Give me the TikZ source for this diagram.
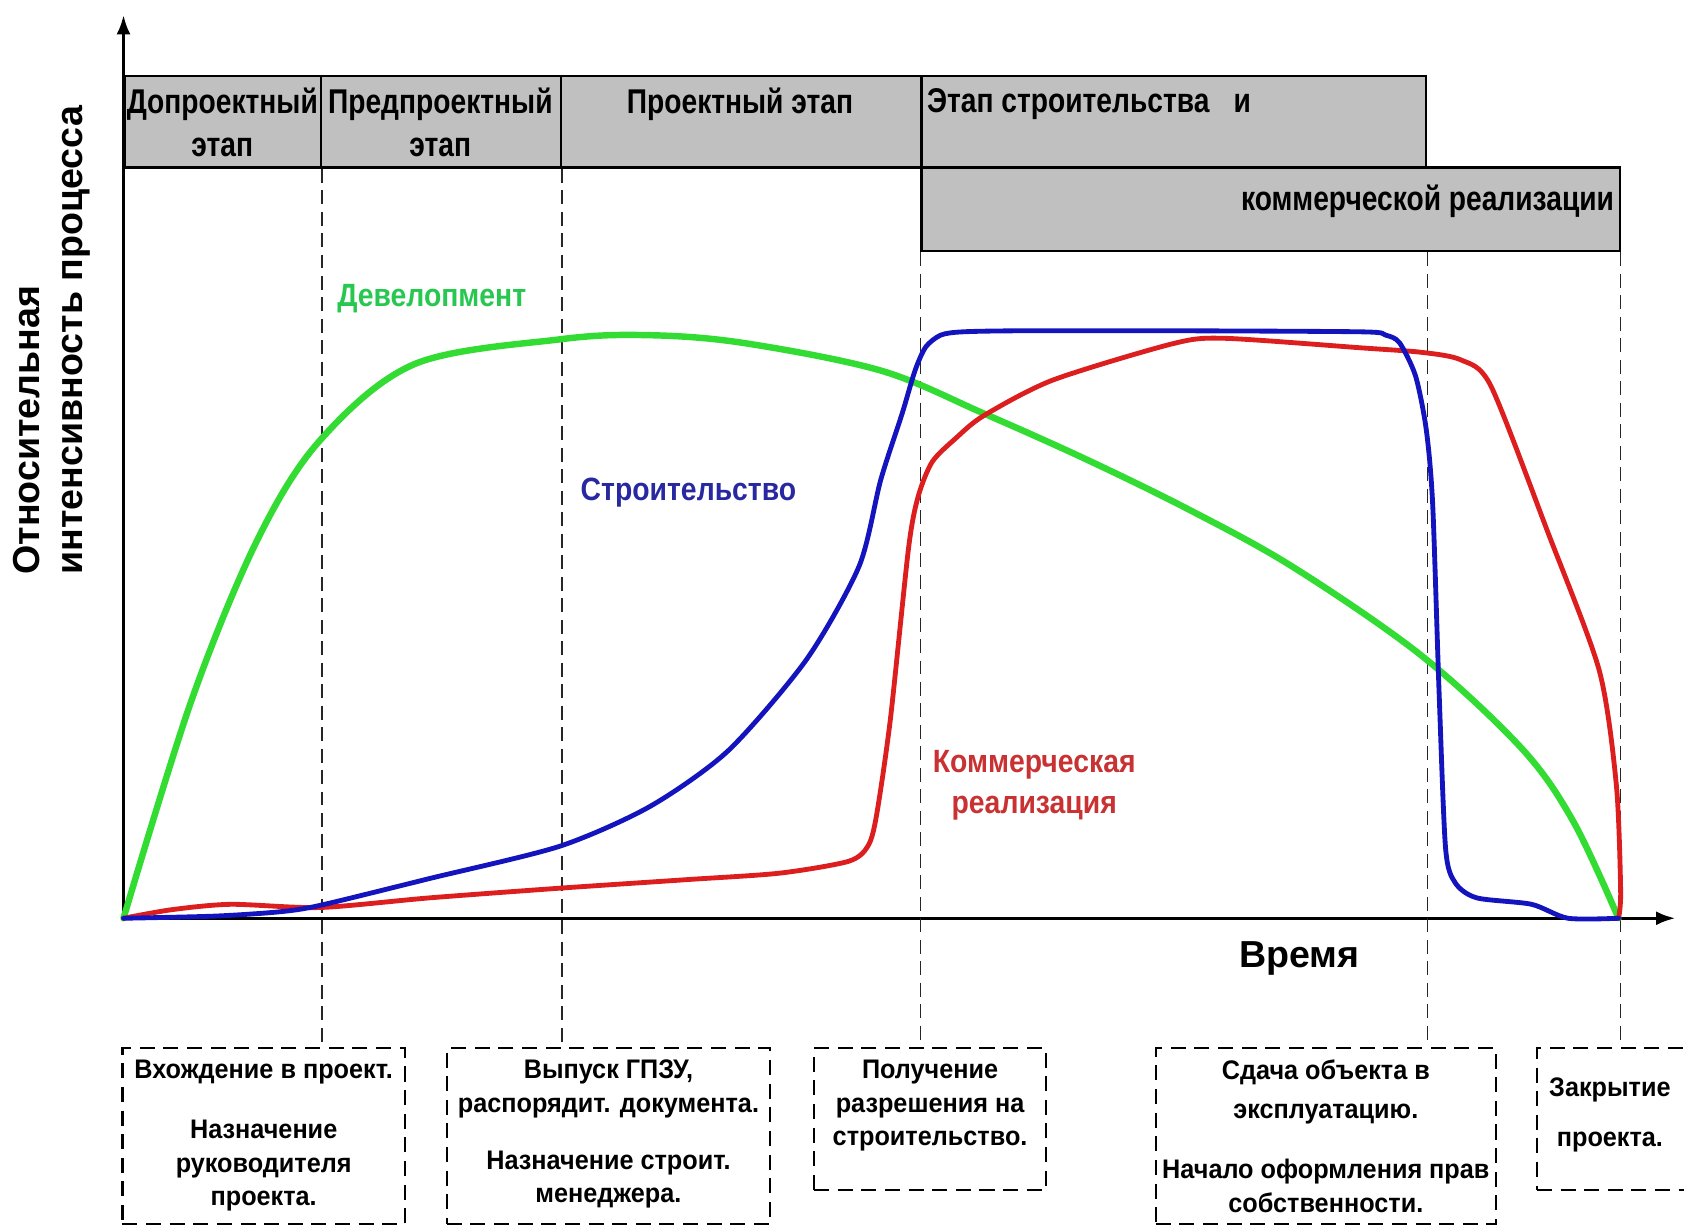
\documentclass[tikz,border=0pt]{standalone}
\usepackage{fontspec}
\setmainfont{Liberation Sans}
\newfontfamily\nrw{Liberation Sans}[FakeStretch=0.82]
\newfontfamily\nrwb{Liberation Sans}[FakeStretch=0.88]
\newfontfamily\nrwc{Liberation Sans}[FakeStretch=0.94]
\usetikzlibrary{arrows.meta}
\definecolor{hdrgray}{RGB}{192,192,192}
\definecolor{cgreen}{RGB}{50,220,50}
\definecolor{cblue}{RGB}{20,20,190}
\definecolor{cred}{RGB}{220,30,30}
\definecolor{tgreen}{RGB}{40,200,80}
\definecolor{tblue}{RGB}{40,40,160}
\definecolor{tred}{RGB}{200,50,50}
\tikzset{
  hdr/.style={draw=black, line width=2pt, fill=hdrgray, inner sep=0pt, anchor=north west},
  htext/.style={font=\nrw\bfseries\fontsize{32}{40}\selectfont, inner sep=0pt, align=center},
  dbox/.style={draw=black, line width=2pt, dash pattern=on 14pt off 8pt, inner sep=0pt, anchor=north west},
  btext/.style={font=\nrwc\bfseries\fontsize{25}{31}\selectfont, inner sep=0pt, align=center, anchor=north},
  vdash/.style={line width=1.5pt, dash pattern=on 13pt off 7pt, draw=black!85},
  axis/.style={line width=3pt, -{Latex[length=18pt,width=13pt]}},
  clabel/.style={font=\nrwb\bfseries\fontsize{30}{38}\selectfont, inner sep=0pt, align=center},
  curve/.style={line width=5pt, line join=round, line cap=round}
}
\begin{document}
\begin{tikzpicture}[x=1pt,y=-1pt]
\useasboundingbox (0,0) rectangle (1568,1142);
% axes
\coordinate (O) at (115,855);
\coordinate (ytop) at (115,14);
\coordinate (xend) at (1560,855);
\draw[axis] (O) -- (ytop);
\draw[axis] (O) -- (xend);
% header row
\node[hdr, minimum width=183pt, minimum height=85pt] (h1) at (115,70) {};
\node[hdr, minimum width=223pt, minimum height=85pt] (h2) at (298,70) {};
\node[hdr, minimum width=336pt, minimum height=85pt] (h3) at (521,70) {};
\node[hdr, minimum width=470pt, minimum height=85pt] (h4) at (857,70) {};
\node[hdr, minimum width=650pt, minimum height=78pt] (r2) at (857,155) {};
\node[htext, anchor=north] (h1t) at (207,82) {Допроектный\\этап};
\node[htext, anchor=north] (h2t) at (410,82) {Предпроектный\\этап};
\node[htext, anchor=north] (h3t) at (689,82) {Проектный этап};
\node[htext, anchor=north west] (h4t) at (863,82) {Этап строительства\hspace{0.7em}и};
\node[htext, anchor=east] (r2t) at (1503,187) {коммерческой реализации};
% bottom boxes
\node[dbox, minimum width=263pt, minimum height=164pt] (b1) at (113,975) {};
\node[dbox, minimum width=301pt, minimum height=164pt] (b2) at (415,975) {};
\node[dbox, minimum width=216pt, minimum height=132pt] (b3) at (757,975) {};
\node[dbox, minimum width=317pt, minimum height=164pt] (b4) at (1075,975) {};
\node[dbox, minimum width=200pt, minimum height=132pt] (b5) at (1430,975) {};
\node[btext] (b1t) at (b1.north |- 0,987) {Вхождение в проект.\\[25pt]Назначение\\руководителя\\проекта.};
\node[btext] (b2t) at (b2.north |- 0,987) {Выпуск ГПЗУ,\\распорядит. документа.\\[22pt]Назначение строит.\\менеджера.};
\node[btext] (b3t) at (b3.north |- 0,987) {Получение\\разрешения на\\строительство.};
\node[btext] (b4t) at (b4.north |- 0,987) {Сдача объекта в\\[5pt]эксплуатацию.\\[25pt]Начало оформления прав\\собственности.};
\node[btext] (b5t) at (1499,1003) {Закрытие\\[16pt]проекта.};
% dashed guide lines
\draw[vdash] (h1.south east) -- (h1.south east |- b1.north);
\draw[vdash] (h2.south east) -- (h2.south east |- b2.north);
\draw[vdash] (r2.south west) -- (r2.south west |- b3.north);
\draw[vdash] (h4.south east |- r2.south) -- (h4.south east |- b4.north);
\draw[vdash] (r2.south east) -- (r2.south east |- b5.north);
% curves
\draw[curve, cgreen, line width=6pt] plot[smooth, tension=0.55] coordinates {
 (115,855) (178,653) (239,504) (298,410) (386,339) (521,316) (600,312) (690,319)
 (820,345) (916,385) (1012,428) (1108,475) (1204,528) (1323,610) (1417,697) (1465,765) (1507,855)};
\draw[curve, cred, line width=4.5pt] plot[smooth, tension=0.45] coordinates {
 (115,855) (160,847) (215,842) (298,845) (400,836) (521,827) (640,819) (726,813)
 (790,802) (808,788) (816,760) (829,670) (846,510) (855,462) (868,430) (890,408) (916,387)
 (980,354) (1092,320) (1140,315) (1269,324) (1323,328) (1360,335) (1388,359) (1441,495)
 (1489,624) (1505,731) (1509,830) (1507,855)};
\draw[curve, cblue, line width=4.5pt] plot[smooth, tension=0.45] coordinates {
 (115,855) (200,853) (260,849) (298,843) (400,818) (521,788) (605,751) (678,699)
 (751,614) (800,527) (820,447) (840,385) (852,345) (862,323) (876,312) (896,309) (950,308)
 (1100,308) (1269,309) (1290,312) (1303,319) (1318,350) (1328,400) (1334,470) (1340,646)
 (1346,790) (1355,822) (1375,836) (1426,842) (1460,855) (1507,855)};
% labels
\node[clabel, text=tgreen] (ldev) at (402,278) {Девелопмент};
\node[clabel, text=tblue] (lcon) at (641,459) {Строительство};
\node[clabel, text=tred] (lcom) at (963,731) {Коммерческая\\реализация};
\node[font=\bfseries\fontsize{35}{40}\selectfont, inner sep=0pt] (ltime) at (1210,892) {Время};
\node[font=\bfseries\fontsize{35}{40}\selectfont, inner sep=0pt, rotate=90, align=left, anchor=north west] (ylab) at (12,535) {Относительная\\интенсивность процесса};
\end{tikzpicture}
\end{document}
